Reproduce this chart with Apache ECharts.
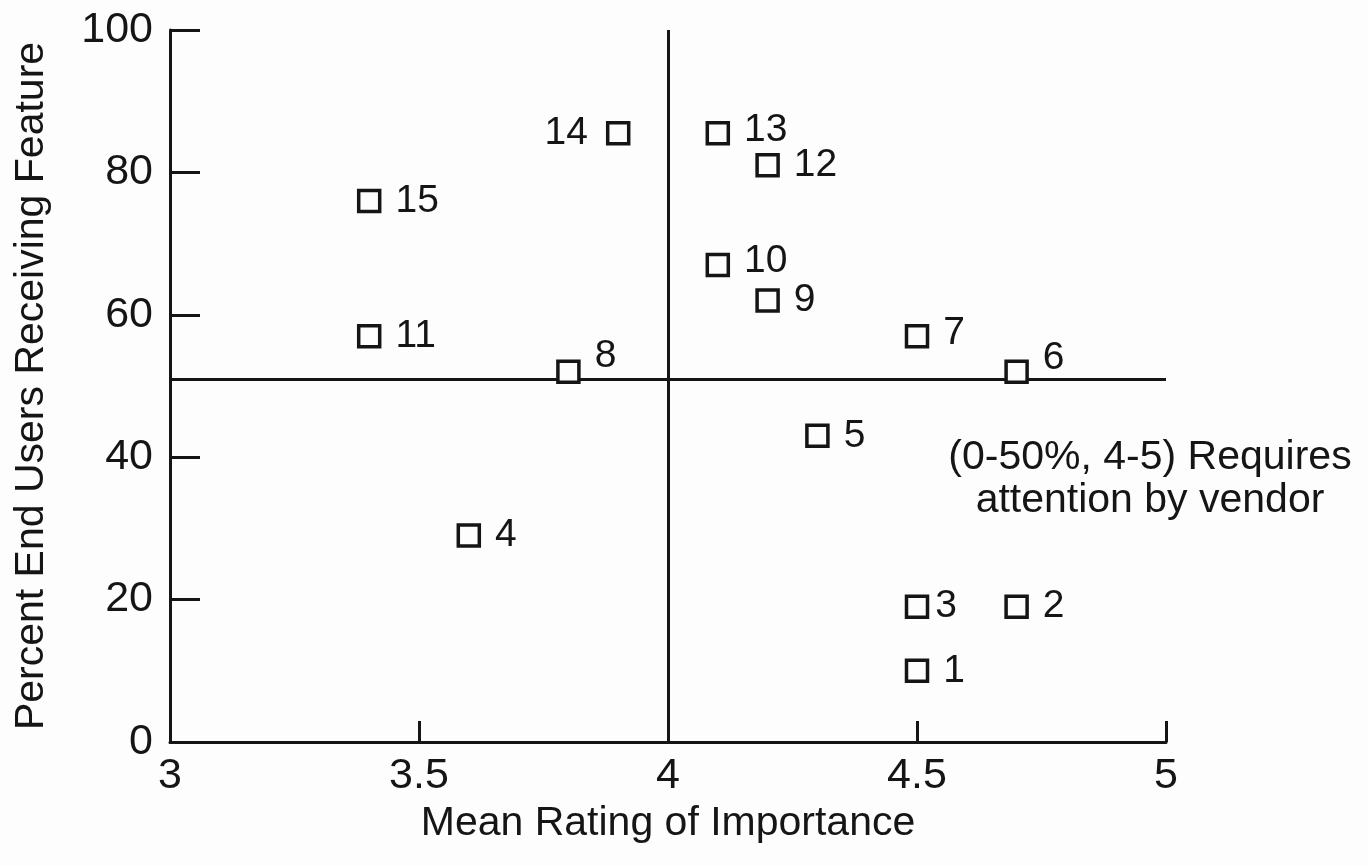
<!DOCTYPE html>
<html>
<head>
<meta charset="utf-8">
<script src="https://cdn.jsdelivr.net/npm/echarts@6/dist/echarts.min.js"></script>
<style>
  html, body { margin: 0; padding: 0; background: #fdfdfd; }
  #chart { width: 1368px; height: 866px; }
</style>
</head>
<body>
<div id="chart"></div>
<script>
// ---- data ----
const featureIds = ['1', '2', '3', '4', '5', '6', '7', '8', '9', '10', '11', '12', '13', '14', '15'];
const meanRatings = [4.5, 4.7, 4.5, 3.6, 4.3, 4.7, 4.5, 3.8, 4.2, 4.1, 3.4, 4.2, 4.1, 3.9, 3.4];
const percentReceiving = [10, 19, 19, 29, 43, 52, 57, 52, 62, 67, 57, 81, 85.5, 85.5, 76];
const xTicks = [3, 3.5, 4, 4.5, 5];
const yTicks = [0, 20, 40, 60, 80, 100];
const ratingDivider = 4;
const percentDivider = 51;
const xTitle = 'Mean Rating of Importance';
const yTitle = 'Percent End Users Receiving Feature';
const noteText = '(0-50%, 4-5) Requires\nattention by vendor';

// ---- label placement styles (by feature id) ----
const labelStyles = {
  '14': { position: 'left', distance: 18 },
  '8': { offset: [0, -16] },
  '6': { offset: [0, -14] },
  '13': { offset: [0, -3] },
  '10': { offset: [0, -4] },
  '7': { offset: [0, -3] },
  '3': { distance: 6 }
};

const FONT = '"Liberation Sans", Arial, Helvetica, sans-serif';
const INK = '#151515';

const points = featureIds.map((id, i) => {
  const item = { value: [meanRatings[i], percentReceiving[i]], name: id };
  if (labelStyles[id]) item.label = labelStyles[id];
  return item;
});

const chart = echarts.init(document.getElementById('chart'), null, { renderer: 'canvas' });
chart.setOption({
  backgroundColor: '#fdfdfd',
  animation: false,
  grid: { left: 170, right: 202, top: 30, bottom: 124, outerBoundsMode: 'none', containLabel: false },
  xAxis: {
    type: 'value',
    min: xTicks[0], max: xTicks[xTicks.length - 1], interval: xTicks[1] - xTicks[0],
    name: xTitle, nameLocation: 'middle', nameGap: 58,
    nameTextStyle: { fontFamily: FONT, fontSize: 41, color: INK },
    axisLine: { show: true, lineStyle: { color: INK, width: 3 } },
    axisTick: { show: true, inside: true, length: 21, lineStyle: { color: INK, width: 3 } },
    axisLabel: { fontFamily: FONT, fontSize: 43, color: INK, margin: 13 },
    splitLine: { show: false }
  },
  yAxis: {
    type: 'value',
    min: yTicks[0], max: yTicks[yTicks.length - 1], interval: yTicks[1] - yTicks[0],
    name: yTitle, nameLocation: 'middle', nameGap: 118, nameRotate: 90,
    nameTextStyle: { fontFamily: FONT, fontSize: 41, color: INK },
    axisLine: { show: true, lineStyle: { color: INK, width: 3 } },
    axisTick: { show: true, inside: true, length: 30, lineStyle: { color: INK, width: 3 } },
    axisLabel: { fontFamily: FONT, fontSize: 43, color: INK, margin: 17 },
    splitLine: { show: false }
  },
  series: [{
    type: 'scatter',
    data: points,
    symbol: 'rect',
    symbolSize: 21,
    itemStyle: { color: '#fdfdfd', borderColor: INK, borderWidth: 3.5, opacity: 1 },
    label: {
      show: true, position: 'right', distance: 14,
      formatter: p => p.name,
      fontFamily: FONT, fontSize: 39, color: INK
    },
    emphasis: { disabled: true },
    z: 3,
    markLine: {
      silent: true,
      symbol: 'none',
      label: { show: false },
      lineStyle: { color: INK, width: 3, type: 'solid' },
      data: [{ xAxis: ratingDivider }, { yAxis: percentDivider }],
      z: 1
    }
  }],
  graphic: [{
    type: 'text',
    x: 1150, y: 479,
    style: {
      text: noteText,
      font: '41px ' + FONT,
      textAlign: 'center',
      textVerticalAlign: 'middle',
      lineHeight: 43,
      fill: INK
    }
  }]
});
</script>
</body>
</html>
